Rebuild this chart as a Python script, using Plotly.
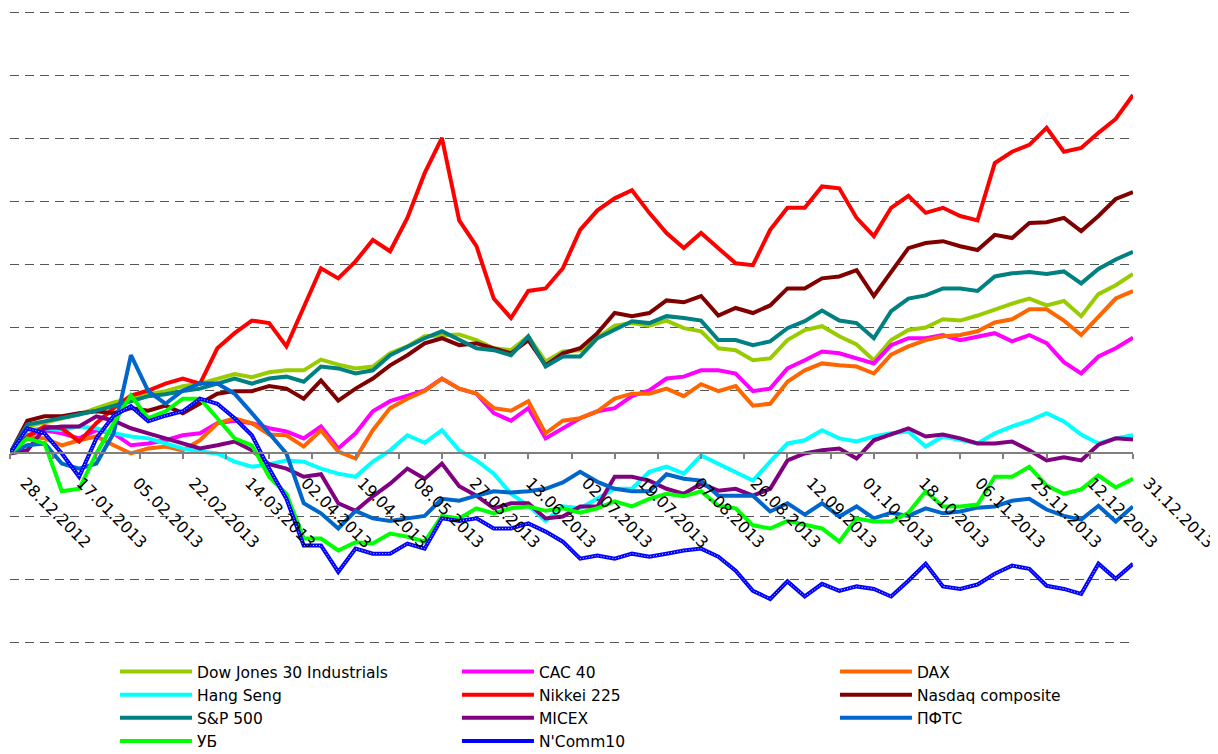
import plotly.graph_objects as go

# trading-day index (category axis, 261 categories), sampled every 4 days
day_index = list(range(0, 261, 4))

tick_days = list(range(0, 261, 13))
tick_labels = ["28.12.2012", "17.01.2013", "05.02.2013", "22.02.2013", "14.03.2013",
               "02.04.2013", "19.04.2013", "08.05.2013", "27.05.2013", "13.06.2013",
               "02.07.2013", "19.07.2013", "07.08.2013", "26.08.2013", "12.09.2013",
               "01.10.2013", "18.10.2013", "06.11.2013", "25.11.2013", "12.12.2013",
               "31.12.2013"]
minor_tick_days = list(range(0, 261, 10))

# % change since 28.12.2012
dow_jones = [0, 4.3, 4.9, 5.6, 6.2, 7.2, 8.1, 8.7, 9.4, 9.9, 10.7, 11.1, 11.9, 12.6, 12.1, 12.9,
             13.2, 13.2, 14.9, 14.1, 13.5, 13.8, 15.9, 17.0, 18.6, 18.8, 18.9, 18.0, 16.7, 16.4,
             18.6, 14.6, 16.2, 16.4, 18.3, 20.3, 20.7, 20.3, 21.1, 19.9, 19.4, 16.7, 16.4, 14.8,
             15.1, 18.0, 19.6, 20.2, 18.6, 17.3, 14.8, 18.0, 19.6, 20.0, 21.3, 21.1, 21.9, 22.9,
             23.8, 24.6, 23.5, 24.2, 21.8, 25.3, 26.7, 28.5]
cac40 = [0, 2.9, 3.7, 3.2, 2.4, 3.7, 3.2, 1.3, 1.6, 2.1, 2.9, 3.2, 4.8, 5.2, 4.8, 4.0, 3.5, 2.4,
         4.3, 0.8, 3.2, 6.7, 8.3, 9.1, 10.0, 11.9, 10.3, 9.5, 6.4, 5.2, 7.2, 2.4, 4.0, 5.6, 6.7,
         7.2, 9.1, 10.0, 11.9, 12.2, 13.2, 13.2, 12.7, 9.9, 10.3, 13.5, 14.8, 16.2, 15.9, 15.1,
         14.3, 17.2, 18.3, 18.3, 18.8, 18.0, 18.6, 19.1, 17.8, 18.8, 17.5, 14.5, 12.7, 15.4,
         16.7, 18.4]
dax = [0, 2.7, 2.4, 1.3, 2.1, 2.7, 1.3, 0.0, 0.8, 1.1, 0.5, 2.1, 4.8, 5.6, 4.8, 3.0, 2.9, 1.1,
       3.7, 0.3, -0.8, 3.7, 7.2, 8.7, 9.9, 11.9, 10.3, 9.5, 7.2, 6.8, 8.3, 3.2, 5.2, 5.6, 6.7,
       8.7, 9.5, 9.5, 10.3, 9.1, 11.0, 9.9, 10.7, 7.6, 7.9, 11.4, 13.2, 14.3, 14.0, 13.8, 12.7,
       15.7, 17.0, 18.0, 18.6, 18.8, 19.4, 20.8, 21.3, 22.9, 22.9, 21.1, 18.8, 21.8, 24.6, 25.8]
hang_seng = [0, 3.7, 4.0, 3.7, 4.3, 4.0, 3.2, 2.7, 2.4, 1.6, 0.8, 0.3, 0.0, -1.3, -2.1, -1.7,
             -1.1, -1.3, -2.4, -3.2, -3.7, -1.3, 0.5, 2.9, 1.7, 3.7, 0.5, -1.1, -3.2, -6.4, -8.3,
             -10.7, -8.4, -8.7, -7.2, -5.6, -5.6, -2.9, -2.1, -3.2, -0.3, -1.6, -2.9, -4.3, -1.3,
             1.6, 2.1, 3.7, 2.4, 1.9, 2.7, 3.2, 3.5, 1.1, 2.7, 2.1, 1.6, 3.2, 4.3, 5.2, 6.4, 5.1,
             3.0, 1.6, 2.4, 2.9]
nikkei = [0, 2.7, 4.3, 4.0, 1.9, 4.8, 7.2, 9.2, 10.0, 11.1, 11.9, 11.1, 16.7, 19.1, 21.1, 20.7,
          17.0, 23.1, 29.4, 27.8, 30.5, 33.9, 32.1, 37.4, 44.5, 50.1, 37.0, 32.9, 24.6, 21.5,
          25.8, 26.2, 29.4, 35.5, 38.6, 40.5, 41.8, 38.2, 35.0, 32.6, 35.0, 32.6, 30.2, 29.9,
          35.5, 39.0, 39.0, 42.4, 42.1, 37.4, 34.5, 39.0, 40.9, 38.2, 39.0, 37.7, 37.0, 46.1,
          47.9, 49.0, 51.7, 47.9, 48.5, 50.9, 53.1, 56.9]
nasdaq = [0, 5.2, 5.9, 5.9, 6.4, 6.7, 6.4, 7.2, 6.8, 7.6, 6.4, 7.9, 9.5, 9.9, 9.9, 10.7, 10.3,
          8.7, 11.6, 8.4, 10.3, 11.9, 14.0, 15.6, 17.5, 18.3, 17.2, 17.5, 16.7, 15.9, 18.0, 14.0,
          15.9, 16.7, 19.1, 22.3, 21.8, 22.3, 24.3, 24.0, 25.0, 21.9, 23.1, 22.3, 23.5, 26.2,
          26.2, 27.8, 28.1, 29.1, 25.0, 28.9, 32.6, 33.4, 33.7, 32.9, 32.3, 34.7, 34.2, 36.6,
          36.7, 37.4, 35.3, 37.7, 40.4, 41.5]
sp500 = [0, 4.6, 5.1, 5.6, 6.2, 6.8, 7.5, 8.3, 9.1, 9.4, 9.9, 10.3, 11.1, 11.9, 11.1, 11.9, 12.2,
         11.4, 13.8, 13.5, 12.7, 13.2, 15.6, 17.0, 18.3, 19.4, 18.0, 16.7, 16.4, 15.6, 18.6, 13.8,
         15.4, 15.4, 18.3, 19.6, 21.0, 20.7, 21.8, 21.5, 21.1, 18.0, 18.0, 17.2, 17.8, 19.9, 21.0,
         22.7, 21.1, 20.7, 18.3, 22.6, 24.6, 25.1, 26.2, 26.2, 25.8, 28.1, 28.6, 28.8, 28.5,
         28.9, 27.0, 29.3, 30.8, 32.0]
micex = [0, 0.5, 4.0, 4.3, 4.3, 5.9, 5.2, 4.0, 3.2, 2.4, 1.6, 0.8, 1.3, 1.9, 0.5, -1.7, -2.4,
         -3.7, -3.3, -7.9, -9.1, -6.8, -4.8, -2.4, -4.0, -1.6, -5.2, -6.7, -8.7, -7.9, -7.9,
         -10.3, -10.0, -8.4, -8.4, -3.7, -3.7, -4.3, -5.6, -6.4, -4.8, -5.9, -5.6, -6.7, -5.6,
         -1.1, 0.0, 0.5, 0.8, -0.8, 2.1, 3.0, 4.0, 2.7, 3.0, 2.4, 1.6, 1.6, 1.9, 0.5, -1.1, -0.6,
         -1.1, 1.4, 2.4, 2.2]
pfts = [0, 1.3, 1.6, -1.6, -2.4, -1.6, 3.2, 15.6, 9.9, 7.9, 10.0, 11.1, 11.1, 9.5, 6.4, 3.2,
        0.0, -7.9, -9.5, -11.9, -9.1, -10.3, -10.7, -10.3, -9.9, -7.2, -7.5, -6.7, -6.0, -6.2,
        -6.0, -5.6, -4.6, -2.9, -4.5, -5.6, -6.0, -6.0, -3.3, -4.0, -4.3, -6.7, -6.7, -6.7,
        -9.2, -7.9, -9.7, -7.9, -10.0, -8.4, -10.3, -9.4, -9.9, -8.7, -9.5, -9.2, -8.6, -8.4,
        -7.5, -7.2, -8.9, -9.9, -10.5, -8.3, -10.8, -8.4]
ub = [0, 2.4, 1.6, -6.0, -5.6, 0.0, 4.8, 9.2, 5.6, 6.7, 8.7, 8.7, 5.6, 2.4, 1.3, -3.7, -6.4,
      -13.5, -13.5, -15.4, -14.1, -14.3, -12.7, -13.2, -14.0, -9.9, -10.3, -8.7, -9.5, -8.7,
      -8.4, -9.1, -8.7, -9.4, -8.7, -7.6, -8.4, -7.2, -6.4, -6.8, -6.0, -8.3, -8.7, -11.4,
      -11.9, -10.7, -11.3, -11.9, -14.0, -10.3, -10.8, -10.8, -9.4, -6.0, -8.4, -8.4, -8.1,
      -3.7, -3.7, -2.1, -5.1, -6.4, -5.7, -3.5, -5.4, -4.0]
ncomm10 = [0, 4.0, 3.2, 0.0, -3.7, 2.4, 6.0, 7.5, 5.1, 6.0, 6.7, 8.7, 7.9, 5.6, 2.9, -2.4, -7.2,
           -14.6, -14.6, -18.8, -15.1, -15.9, -15.9, -14.3, -15.1, -10.3, -10.7, -10.3, -11.9,
           -11.9, -11.1, -12.4, -14.0, -16.7, -16.2, -16.7, -15.9, -16.4, -15.9, -15.4, -15.1,
           -16.4, -18.6, -21.8, -23.1, -20.3, -22.7, -20.7, -21.8, -21.1, -21.5, -22.7, -20.2,
           -17.5, -21.1, -21.5, -20.8, -19.1, -17.8, -18.3, -21.0, -21.5, -22.3, -17.5, -19.9,
           -17.5]

series = [
    ("Dow Jones 30 Industrials", dow_jones, "#99CC00", "legend"),
    ("CAC 40", cac40, "#FF00FF", "legend2"),
    ("DAX", dax, "#FF6600", "legend3"),
    ("Hang Seng", hang_seng, "#00FFFF", "legend"),
    ("Nikkei 225", nikkei, "#FF0000", "legend2"),
    ("Nasdaq composite", nasdaq, "#800000", "legend3"),
    ("S&P 500", sp500, "#008080", "legend"),
    ("MICEX", micex, "#800080", "legend2"),
    ("ПФТС", pfts, "#0066CC", "legend3"),
    ("УБ", ub, "#00FF00", "legend"),
    ("N'Comm10", ncomm10, "#0000FF", "legend2"),
]

fig = go.Figure()
for name, vals, color, leg in series:
    fig.add_trace(go.Scatter(x=day_index, y=vals, mode="lines", name=name, legend=leg,
                             line=dict(color=color, width=4)))
# white speckle texture on the N'Comm10 line
fig.add_trace(go.Scatter(x=day_index, y=ncomm10, mode="lines", showlegend=False,
                         hoverinfo="skip",
                         line=dict(color="rgba(255,255,255,0.85)", width=1, dash="1px,2px")))

y_lo, y_hi = -30.4, 70.4
legend_font = dict(family="DejaVu Sans", size=15.5, color="black")
leg_common = dict(orientation="v", yanchor="top", xanchor="left", y=-0.0157,
                  font=legend_font, itemwidth=72, bgcolor="rgba(0,0,0,0)",
                  borderwidth=0, tracegroupgap=0, traceorder="normal")

fig.update_layout(
    template="none",
    width=1210, height=746,
    margin=dict(l=2, r=85, t=2, b=109, autoexpand=False),
    paper_bgcolor="white", plot_bgcolor="white",
    showlegend=True,
    legend=dict(x=0.0935, **leg_common),
    legend2=dict(x=0.398, **leg_common),
    legend3=dict(x=0.7346, **leg_common),
    xaxis=dict(range=[0, 260], tickmode="array", tickvals=tick_days, ticktext=tick_labels,
               tickangle=45, ticks="", showgrid=False, zeroline=False,
               showline=True, linecolor="#808080", linewidth=2,
               anchor="free", position=(0 - y_lo) / (y_hi - y_lo), automargin=False,
               ticklabelstandoff=13, ticklabelshift=15, ticklabeloverflow="allow",
               tickfont=dict(family="DejaVu Sans", size=16, color="black"),
               minor=dict(tickmode="array", tickvals=minor_tick_days, ticks="outside",
                          ticklen=5, tickwidth=1.5, tickcolor="#808080", showgrid=False)),
    yaxis=dict(range=[y_lo, y_hi], tickmode="linear", tick0=0, dtick=10,
               showticklabels=False, ticks="", showgrid=True, gridcolor="#555555",
               gridwidth=1, griddash="9px,6px", zeroline=False, showline=False,
               automargin=False),
)

fig.write_html("out.html")
